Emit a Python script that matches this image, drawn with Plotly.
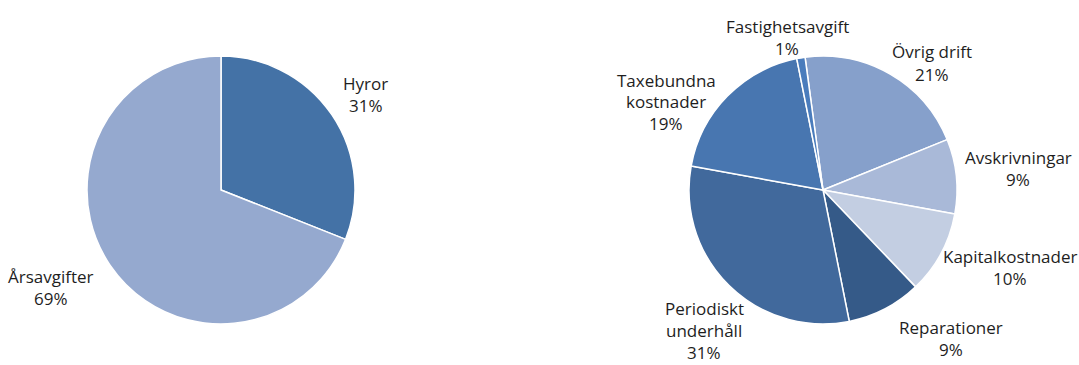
import plotly.graph_objects as go

left_labels = ["Hyror", "Årsavgifter"]
left_values = [31, 69]
left_colors = ["#4472a6", "#95a9cf"]

right_labels = ["Övrig drift", "Avskrivningar", "Kapitalkostnader", "Reparationer",
                "Periodiskt<br>underhåll", "Taxebundna<br>kostnader", "Fastighetsavgift"]
right_values = [21, 9, 10, 9, 31, 19, 1]
right_colors = ["#86a0cb", "#a9b9d8", "#c3cee2", "#355a88", "#41699c", "#4876b0", "#4a7cbc"]

# label block anchor positions (pixels from top-left: centre x, first line y)
left_label_pos = [(366, 84), (51, 276)]
right_label_pos = [(932, 52), (1018, 157), (1010, 256), (951, 327.5),
                   (704, 308.5), (666, 80), (787, 26)]

W, H = 1079, 365
LINE = 22
font = dict(family="Open Sans", size=17, color="#1e1e1e")

fig = go.Figure()
fig.add_trace(go.Pie(
    labels=left_labels, values=left_values, sort=False, direction="clockwise", rotation=0,
    marker=dict(colors=left_colors, line=dict(color="white", width=1.5)),
    textinfo="none", showlegend=False, hoverinfo="skip",
    domain=dict(x=[87 / W, 355 / W], y=[(H - 324) / H, (H - 56) / H]),
))
fig.add_trace(go.Pie(
    labels=right_labels, values=right_values, sort=False, direction="clockwise", rotation=-7.7,
    marker=dict(colors=right_colors, line=dict(color="white", width=1.5)),
    textinfo="none", showlegend=False, hoverinfo="skip",
    domain=dict(x=[689 / W, 957 / W], y=[(H - 324) / H, (H - 56) / H]),
))

annotations = []
for labels, values, positions in [(left_labels, left_values, left_label_pos),
                                  (right_labels, right_values, right_label_pos)]:
    total = sum(values)
    for lab, val, (cx, cy) in zip(labels, values, positions):
        lines = lab.split("<br>") + [f"{round(val / total * 100)}%"]
        for i, line in enumerate(lines):
            annotations.append(dict(
                text=line, x=cx / W, y=1 - (cy + i * LINE) / H, xref="paper", yref="paper",
                xanchor="center", yanchor="middle", showarrow=False, font=font,
            ))

fig.update_layout(width=W, height=H, margin=dict(l=0, r=0, t=0, b=0),
                  paper_bgcolor="white", plot_bgcolor="white", font=font,
                  annotations=annotations)
fig.write_html("out.html")
